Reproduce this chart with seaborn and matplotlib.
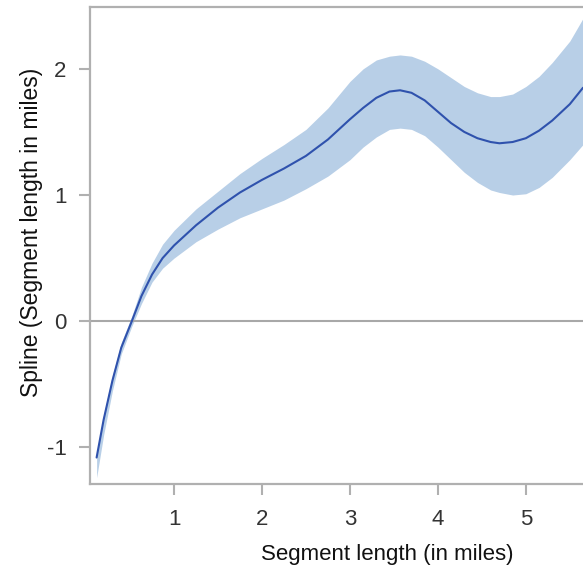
import matplotlib
matplotlib.use("Agg")
import matplotlib.pyplot as plt
import seaborn as sns
import pandas as pd

# Data
seg_len = [0.12, 0.2, 0.3, 0.4, 0.52, 0.63, 0.75, 0.87, 1.0, 1.25, 1.5, 1.75, 2.0, 2.25, 2.5, 2.75, 3.0,
           3.15, 3.3, 3.45, 3.57, 3.7, 3.85, 4.0, 4.15, 4.3, 4.45, 4.6, 4.7, 4.85, 5.0, 5.15, 5.3, 5.5, 5.65]
spline = [-1.08, -0.78, -0.47, -0.21, 0.0, 0.2, 0.37, 0.5, 0.6, 0.76, 0.9, 1.02, 1.12, 1.21, 1.31, 1.44, 1.6,
          1.69, 1.77, 1.82, 1.83, 1.81, 1.75, 1.66, 1.57, 1.5, 1.45, 1.42, 1.41, 1.42, 1.45, 1.51, 1.59, 1.72, 1.85]
upper = [-1.04, -0.74, -0.43, -0.17, 0.04, 0.27, 0.46, 0.61, 0.72, 0.89, 1.03, 1.17, 1.29, 1.4, 1.52, 1.69, 1.9,
         2.0, 2.07, 2.1, 2.11, 2.1, 2.06, 2.0, 1.93, 1.86, 1.81, 1.78, 1.78, 1.8, 1.86, 1.94, 2.05, 2.22, 2.40]
lower = [-1.24, -0.9, -0.55, -0.26, -0.04, 0.14, 0.31, 0.42, 0.5, 0.63, 0.73, 0.82, 0.89, 0.96, 1.05, 1.15, 1.28,
         1.38, 1.46, 1.52, 1.53, 1.52, 1.47, 1.38, 1.28, 1.18, 1.1, 1.04, 1.02, 1.0, 1.01, 1.06, 1.14, 1.28, 1.40]

x_ticks = [1, 2, 3, 4, 5]
y_ticks = [-1, 0, 1, 2]

df = pd.DataFrame({"x": seg_len, "y": spline, "lo": lower, "hi": upper})

sns.set_theme(style="white")
plt.rcParams["font.family"] = ["Liberation Sans", "DejaVu Sans"]

fig = plt.figure(figsize=(5.83, 5.72), dpi=100)
ax = fig.add_axes([0.1544, 0.1538, 0.8456, 0.834])

ax.fill_between(df["x"], df["lo"], df["hi"], color="#b8cfe7", lw=0, zorder=1)
ax.axhline(0, color="#a8a8a8", lw=1.5, zorder=2)
sns.lineplot(data=df, x="x", y="y", ax=ax, color="#2f52ad", lw=1.5, zorder=3)

ax.set_xlim(0.045, 5.65)
ax.set_ylim(-1.29, 2.49)
ax.set_xticks(x_ticks)
ax.set_yticks(y_ticks)
ax.set_xticklabels([str(t) for t in x_ticks])
ax.set_yticklabels([str(t) for t in y_ticks])

for s in ["left", "bottom", "top"]:
    ax.spines[s].set_color("#b0b0b0")
    ax.spines[s].set_linewidth(1.6)
ax.spines["right"].set_visible(False)

ax.tick_params(axis="both", which="major", length=8, width=1.5, color="#b0b0b0",
               labelsize=16, labelcolor="#333333", direction="out")
ax.tick_params(axis="x", pad=10)
ax.tick_params(axis="y", pad=9)
ax.tick_params(left=True, bottom=True)

ax.set_xlabel("Segment length (in miles)", fontsize=16, color="#111111")
ax.set_ylabel("Spline (Segment length in miles)", fontsize=16.5, color="#111111")
ax.xaxis.set_label_coords(0.6024, -0.126)
ax.yaxis.set_label_coords(-0.095, 0.527)

fig.savefig("out.png", dpi=100)
